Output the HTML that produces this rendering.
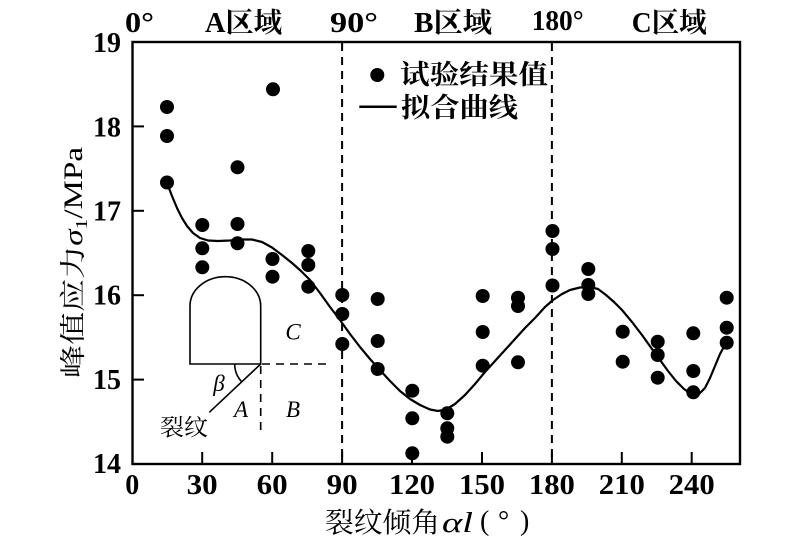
<!DOCTYPE html>
<html><head><meta charset="utf-8"><style>
html,body{margin:0;padding:0;background:#fff;}
svg{display:block;}
</style></head><body>
<svg width="789" height="551" viewBox="0 0 789 551" xmlns="http://www.w3.org/2000/svg">
<rect width="789" height="551" fill="#fff"/>
<!-- plot box -->
<rect x="132.5" y="42" width="607.5" height="422" fill="none" stroke="#000" stroke-width="2.4"/>
<!-- bottom inward ticks -->
<g stroke="#000" stroke-width="2">
<line x1="202.2" y1="464" x2="202.2" y2="452"/>
<line x1="272.2" y1="464" x2="272.2" y2="452"/>
<line x1="342.1" y1="464" x2="342.1" y2="452"/>
<line x1="412" y1="464" x2="412" y2="452"/>
<line x1="482" y1="464" x2="482" y2="452"/>
<line x1="551.9" y1="464" x2="551.9" y2="452"/>
<line x1="621.8" y1="464" x2="621.8" y2="452"/>
<line x1="691.7" y1="464" x2="691.7" y2="452"/>
<!-- left inward ticks -->
<line x1="133" y1="126.4" x2="144" y2="126.4"/>
<line x1="133" y1="210.8" x2="144" y2="210.8"/>
<line x1="133" y1="295.2" x2="144" y2="295.2"/>
<line x1="133" y1="379.6" x2="144" y2="379.6"/>
</g>
<!-- dashed region lines -->
<g stroke="#000" stroke-width="2" stroke-dasharray="8 6">
<line x1="342.1" y1="43" x2="342.1" y2="463"/>
<line x1="551.9" y1="43" x2="551.9" y2="463"/>
</g>
<!-- tick labels -->
<g font-family="'Liberation Serif','Noto Serif CJK SC',serif" font-weight="bold" font-size="28" fill="#000">
<g text-anchor="middle">
<text x="132.3" y="494">0</text>
<text x="202.2" y="494" textLength="31" lengthAdjust="spacingAndGlyphs">30</text>
<text x="272.2" y="494" textLength="31" lengthAdjust="spacingAndGlyphs">60</text>
<text x="342.1" y="494" textLength="31" lengthAdjust="spacingAndGlyphs">90</text>
<text x="412" y="494" textLength="46" lengthAdjust="spacingAndGlyphs">120</text>
<text x="482" y="494" textLength="46" lengthAdjust="spacingAndGlyphs">150</text>
<text x="551.9" y="494" textLength="46" lengthAdjust="spacingAndGlyphs">180</text>
<text x="621.8" y="494" textLength="46" lengthAdjust="spacingAndGlyphs">210</text>
<text x="691.7" y="494" textLength="46" lengthAdjust="spacingAndGlyphs">240</text>
</g>
<g text-anchor="end">
<text x="121" y="52">19</text>
<text x="121" y="136.4">18</text>
<text x="121" y="220.3">17</text>
<text x="121" y="304.7">16</text>
<text x="121" y="389.1">15</text>
<text x="121" y="473">14</text>
</g>
<!-- top labels -->
<text x="125" y="32" textLength="29" lengthAdjust="spacingAndGlyphs">0°</text>
<text x="205" y="32" textLength="77" lengthAdjust="spacingAndGlyphs">A区域</text>
<text x="330" y="32" textLength="48" lengthAdjust="spacingAndGlyphs">90°</text>
<text x="414" y="32" textLength="78" lengthAdjust="spacingAndGlyphs">B区域</text>
<text x="531.7" y="30" textLength="52" lengthAdjust="spacingAndGlyphs">180°</text>
<text x="631.7" y="32" textLength="75" lengthAdjust="spacingAndGlyphs">C区域</text>
</g>
<!-- legend -->
<circle cx="377.3" cy="75" r="7" fill="#000"/>
<line x1="359.3" y1="106.7" x2="396.7" y2="106.7" stroke="#000" stroke-width="2.5"/>
<g font-family="'Liberation Serif','Noto Serif CJK SC',serif" font-weight="bold" font-size="27" fill="#000">
<text x="400" y="84" textLength="148" lengthAdjust="spacingAndGlyphs">试验结果值</text>
<text x="401" y="117" textLength="117" lengthAdjust="spacingAndGlyphs">拟合曲线</text>
</g>
<!-- axis titles -->
<g font-family="'Liberation Serif','Noto Serif CJK SC',serif" fill="#000">
<text x="325" y="532" font-size="28" textLength="115" lengthAdjust="spacingAndGlyphs">裂纹倾角</text>
<text x="442" y="532" font-size="28" font-style="italic" textLength="31" lengthAdjust="spacingAndGlyphs">αl</text>
<text x="480" y="530" font-size="28">(</text>
<text x="498" y="530" font-size="28">°</text>
<text x="520" y="530" font-size="28">)</text>
<text transform="translate(82,378) rotate(-90)" font-size="26" textLength="231" lengthAdjust="spacingAndGlyphs">峰值应力<tspan font-style="italic">σ</tspan><tspan font-size="17" dy="5">1</tspan><tspan dy="-5">/MPa</tspan></text>
</g>
<!-- inset diagram -->
<g fill="none" stroke="#000" stroke-width="1.6">
<path d="M190,306 L190,364 L260.7,364 L260.7,306 A35.35,29.3 0 0 0 190,306 Z"/>
<line x1="260.7" y1="364" x2="209.3" y2="412.3"/>
<path d="M234.7,364 A26,26 0 0 0 241.7,381.8"/>
<g stroke-dasharray="8 6">
<line x1="262" y1="364" x2="328" y2="364"/>
<line x1="260.7" y1="366" x2="260.7" y2="431"/>
</g>
</g>
<g font-family="'Liberation Serif',serif" font-style="italic" font-size="23" fill="#000" text-anchor="middle">
<text x="219" y="391">β</text>
<text x="241" y="417">A</text>
<text x="293" y="417">B</text>
<text x="293" y="339.5">C</text>
</g>
<text x="184" y="435" font-family="'Liberation Serif','Noto Serif CJK SC',serif" font-size="23" text-anchor="middle" textLength="48" lengthAdjust="spacingAndGlyphs" fill="#000">裂纹</text>
<!-- fitted curve -->
<polyline fill="none" stroke="#000" stroke-width="2.2" stroke-linejoin="round" stroke-linecap="round" points="167,183 172,196 177,208 182,218 187,226 193,233 200,238 208,240.5 218,241 230,240.5 242,239.5 252,239.5 262,242 272,247.5 282,255 292,263 301,271 310,280 320,293 330,307 340,320 350,334 360,347 370,359 380,370 390,381 400,391 410,399 420,405 430,409.5 438,411 446,409.5 455,404 465,395 475,384 485,372 495,361 505,350 515,339 525,328 535,318 545,307 553,300 562,294 570,290 580,287.5 590,287 598,289 606,295 614,302 622,310 632,322 642,335 652,349 660,360 668,371 676,381 684,389 692,394.5 699,394 705,388 710,378 715,366 720,354 726,343"/>
<!-- data points -->
<g fill="#000">
<circle cx="167" cy="107" r="7"/><circle cx="167" cy="136" r="7"/><circle cx="167" cy="182.5" r="7"/>
<circle cx="202.3" cy="225" r="7"/><circle cx="202.3" cy="248.3" r="7"/><circle cx="202.3" cy="267.3" r="7"/>
<circle cx="237.5" cy="167.3" r="7"/><circle cx="237.5" cy="224" r="7"/><circle cx="237.5" cy="243.3" r="7"/>
<circle cx="273" cy="89.3" r="7"/><circle cx="272.5" cy="259" r="7"/><circle cx="272.5" cy="276.7" r="7"/>
<circle cx="308.3" cy="251" r="7"/><circle cx="308.3" cy="265" r="7"/><circle cx="308.3" cy="286.7" r="7"/>
<circle cx="342.3" cy="295" r="7"/><circle cx="342.3" cy="314" r="7"/><circle cx="342.3" cy="344" r="7"/>
<circle cx="377.7" cy="299" r="7"/><circle cx="377.7" cy="341" r="7"/><circle cx="377.7" cy="369" r="7"/>
<circle cx="412.3" cy="390.7" r="7"/><circle cx="412.3" cy="418.3" r="7"/><circle cx="412.3" cy="453.3" r="7"/>
<circle cx="447.3" cy="413.3" r="7"/><circle cx="447.3" cy="428.3" r="7"/><circle cx="447.3" cy="436.7" r="7"/>
<circle cx="482.7" cy="296" r="7"/><circle cx="482.7" cy="332" r="7"/><circle cx="482.7" cy="365.7" r="7"/>
<circle cx="518" cy="297.7" r="7"/><circle cx="518" cy="306" r="7"/><circle cx="518" cy="362.3" r="7"/>
<circle cx="552.5" cy="231" r="7"/><circle cx="552.5" cy="249" r="7"/><circle cx="552.5" cy="285.5" r="7"/>
<circle cx="588.3" cy="269" r="7"/><circle cx="588.3" cy="285" r="7"/><circle cx="588.3" cy="294" r="7"/>
<circle cx="622.7" cy="331.7" r="7"/><circle cx="622.7" cy="361.7" r="7"/>
<circle cx="657.7" cy="341.7" r="7"/><circle cx="657.7" cy="355" r="7"/><circle cx="657.7" cy="377.7" r="7"/>
<circle cx="693.3" cy="333.3" r="7"/><circle cx="693.3" cy="371" r="7"/><circle cx="693.3" cy="392.3" r="7"/>
<circle cx="726.7" cy="297.7" r="7"/><circle cx="726.7" cy="327.7" r="7"/><circle cx="726.7" cy="342.7" r="7"/>
</g>
</svg>
</body></html>
